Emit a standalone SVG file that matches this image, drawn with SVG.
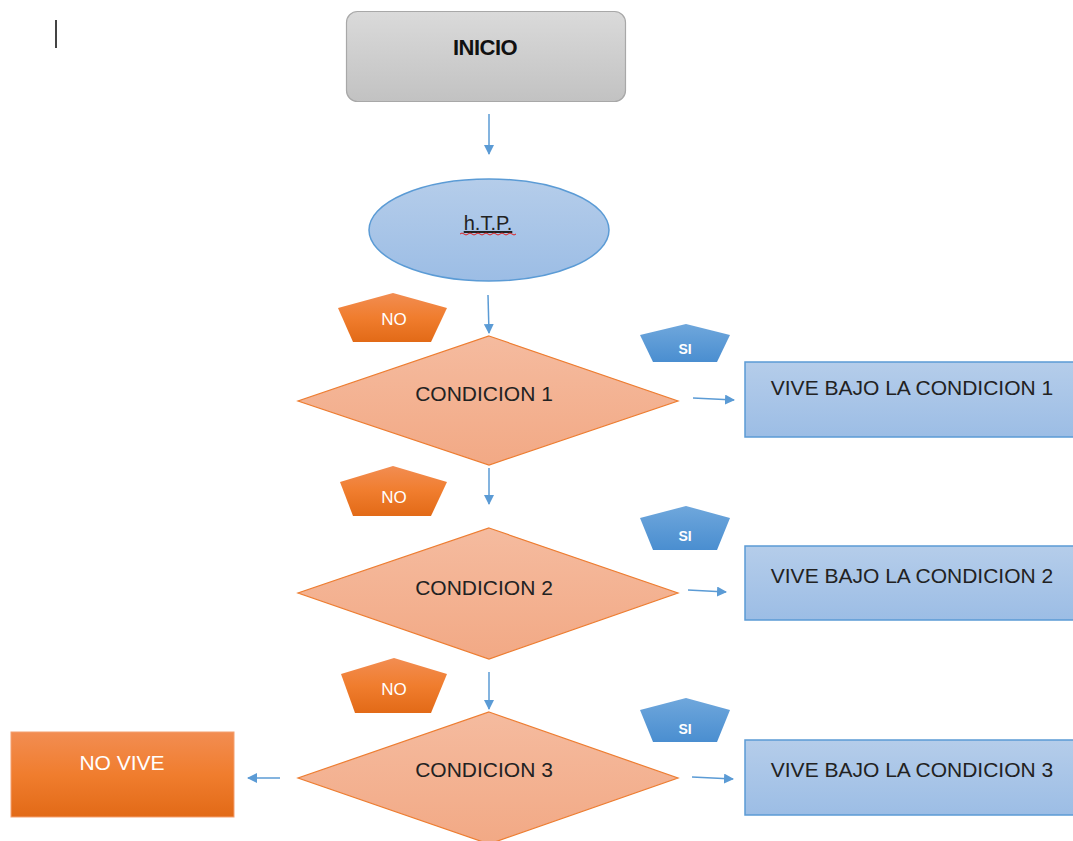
<svg xmlns="http://www.w3.org/2000/svg" width="1073" height="841" viewBox="0 0 1073 841">
<defs>
<linearGradient id="gGray" x1="0" y1="0" x2="0" y2="1"><stop offset="0" stop-color="#dadada"/><stop offset="1" stop-color="#c2c2c2"/></linearGradient>
<linearGradient id="gBlue" x1="0" y1="0" x2="0" y2="1"><stop offset="0" stop-color="#b5cdea"/><stop offset="1" stop-color="#9cbde5"/></linearGradient>
<linearGradient id="gPeach" x1="0" y1="0" x2="0" y2="1"><stop offset="0" stop-color="#f5bb9f"/><stop offset="1" stop-color="#f2a985"/></linearGradient>
<linearGradient id="gOrange" x1="0" y1="0" x2="0" y2="1"><stop offset="0" stop-color="#f28d52"/><stop offset="0.5" stop-color="#f07d2e"/><stop offset="1" stop-color="#e26a17"/></linearGradient>
<linearGradient id="gSi" x1="0" y1="0" x2="0" y2="1"><stop offset="0" stop-color="#6fa7dc"/><stop offset="1" stop-color="#4a8ed0"/></linearGradient>
<marker id="ah" viewBox="0 0 10 10" refX="9" refY="5" markerWidth="10" markerHeight="10" markerUnits="userSpaceOnUse" orient="auto"><path d="M0,0 L10,5 L0,10 z" fill="#5b9bd5"/></marker>
<style>
.lbl{font-family:"Liberation Sans",Arial,sans-serif;fill:#222;text-anchor:middle}
.cond{font-size:21px}
.vive{font-size:21px}
.wt{font-family:"Liberation Sans",Arial,sans-serif;fill:#fff;text-anchor:middle}
.dia{fill:url(#gPeach);stroke:#ed7d31;stroke-width:1.2}
.box{fill:url(#gBlue);stroke:#5b9bd5;stroke-width:1.5}
.no{fill:url(#gOrange)}
.si{fill:url(#gSi)}
.con{stroke:#5b9bd5;stroke-width:1.5;fill:none;marker-end:url(#ah)}
</style>
</defs>
<line x1="56" y1="20" x2="56" y2="48" stroke="#444" stroke-width="2"/>
<g id="inicio">
<rect x="346.5" y="11.5" width="279" height="90" rx="11" fill="url(#gGray)" stroke="#a8a8a8" stroke-width="1.2"/>
<text x="485" y="55" font-family="'Liberation Sans',Arial,sans-serif" font-weight="bold" font-size="22" text-anchor="middle" fill="#111" letter-spacing="-0.5">INICIO</text>
</g>
<g id="htp">
<ellipse cx="489" cy="230" rx="120" ry="51" fill="url(#gBlue)" stroke="#5b9bd5" stroke-width="1.5"/>
<text x="488" y="230" font-family="'Liberation Sans',Arial,sans-serif" font-size="20" text-anchor="middle" fill="#222" text-decoration="underline">h.T.P.</text>
<path d="M460,234 q2,-2 4,0 t4,0 t4,0 t4,0 t4,0 t4,0 t4,0 t4,0 t4,0 t4,0 t4,0 t4,0 t4,0 t4,0" stroke="#e02020" stroke-width="1" fill="none"/>
</g>
<g id="no1">
<polygon class="no" points="393,293 447,308 431,342 353,342 338,308"/>
<text class="wt" x="394" y="325" font-size="17">NO</text>
</g>
<g id="si1">
<polygon class="si" points="686,324 730,335 717,362 653,362 640,335"/>
<text class="wt" x="685" y="354" font-size="14" font-weight="bold">SI</text>
</g>
<g id="cond1">
<polygon class="dia" points="489,336 678,401 489,465 298,401"/>
<text class="lbl cond" x="484" y="401">CONDICION 1</text>
</g>
<g id="vive1">
<rect class="box" x="745" y="362" width="330" height="75"/>
<text class="lbl vive" x="912" y="395">VIVE BAJO LA CONDICION 1</text>
</g>
<g id="no2">
<polygon class="no" points="393,466 447,482 431,516 353,516 340,482"/>
<text class="wt" x="394" y="503" font-size="17">NO</text>
</g>
<g id="si2">
<polygon class="si" points="686,506 730,518 717,550 653,550 640,518"/>
<text class="wt" x="685" y="541" font-size="14" font-weight="bold">SI</text>
</g>
<g id="cond2">
<polygon class="dia" points="489,528 678,593 489,659 298,593"/>
<text class="lbl cond" x="484" y="595">CONDICION 2</text>
</g>
<g id="vive2">
<rect class="box" x="745" y="546" width="330" height="74"/>
<text class="lbl vive" x="912" y="583">VIVE BAJO LA CONDICION 2</text>
</g>
<g id="no3">
<polygon class="no" points="394,658 447,674 431,713 355,713 341,674"/>
<text class="wt" x="394" y="695" font-size="17">NO</text>
</g>
<g id="si3">
<polygon class="si" points="686,698 730,710 717,742 653,742 640,710"/>
<text class="wt" x="685" y="734" font-size="14" font-weight="bold">SI</text>
</g>
<g id="cond3">
<polygon class="dia" points="489,712 678,778 489,844 298,778"/>
<text class="lbl cond" x="484" y="777">CONDICION 3</text>
</g>
<g id="vive3">
<rect class="box" x="745" y="740" width="330" height="75"/>
<text class="lbl vive" x="912" y="777">VIVE BAJO LA CONDICION 3</text>
</g>
<g id="novive">
<rect x="11" y="732" width="223" height="85" fill="url(#gOrange)" stroke="#f4a070" stroke-width="1"/>
<text class="wt" x="122" y="770" font-size="21">NO VIVE</text>
</g>
<g id="connectors">
<line class="con" x1="489" y1="114" x2="489" y2="154"/>
<line class="con" x1="488" y1="295" x2="489" y2="333"/>
<line class="con" x1="693" y1="398" x2="734" y2="400"/>
<line class="con" x1="489" y1="468" x2="489" y2="504"/>
<line class="con" x1="688" y1="590" x2="726" y2="592"/>
<line class="con" x1="489" y1="672" x2="489" y2="709"/>
<line class="con" x1="692" y1="777" x2="733" y2="779"/>
<line class="con" x1="280" y1="778" x2="248" y2="778"/>
</g>
</svg>
